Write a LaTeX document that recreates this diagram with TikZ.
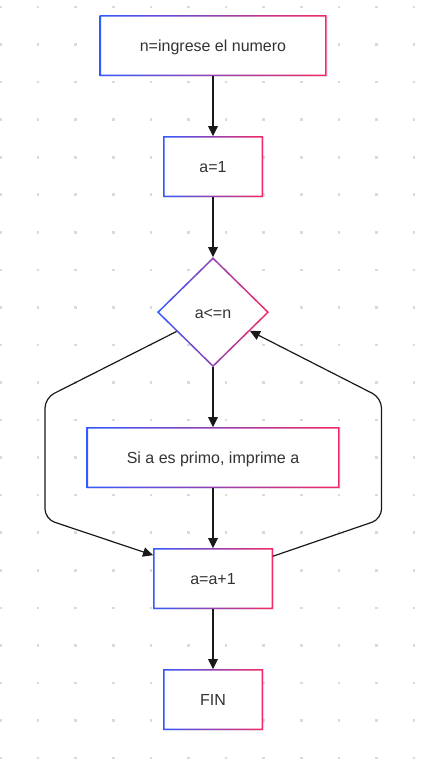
\documentclass[tikz,border=0pt]{standalone}
\usepackage{fontspec}
\setmainfont{Liberation Sans}
\usetikzlibrary{matrix,backgrounds,arrows.meta,shapes.geometric,shadows,calc}
\definecolor{gradblue}{RGB}{50,90,255}
\definecolor{gradred}{RGB}{245,40,100}
\definecolor{txtgray}{RGB}{51,51,51}
\definecolor{dotgray}{RGB}{218,218,218}
\tikzset{
    cell/.style={font=\fontsize{16}{19}\selectfont, text=txtgray, outer sep=0pt,
                 text height=11.6pt, text depth=0pt},
    box/.style={rectangle, minimum height=61pt, fill=white,
                drop shadow={opacity=0.12, shadow xshift=1pt, shadow yshift=-1pt}},
    decision/.style={diamond, minimum width=112pt, minimum height=110pt, fill=white},
    arrow/.style={-{Triangle[length=10pt,width=9.5pt]}, line width=1.2pt, black!90},
    frame/.style={left color=gradblue, right color=gradred, even odd rule}
}

\begin{document}
\begin{tikzpicture}[x=1pt,y=-1pt]
            \useasboundingbox (0,0) rectangle (425,773);

            \matrix (m) [matrix of nodes, row sep=60pt, inner sep=0pt, anchor=north,
                         nodes={cell}
                        ] at (213,15)
            {
             |[box,minimum width=227pt]|    n=ingrese el numero         \\
             |[box,minimum width=100pt]|    a=1                         \\
             |[decision]|                   a<=n                        \\
             |[box,minimum width=253pt]|    Si a es primo, imprime a    \\
             |[box,minimum width=120pt]|    a=a+1                       \\
             |[box,minimum width=100pt]|    FIN                         \\
              };

            % Borders
            \foreach \r in {1,2,4,5,6}
                \shade[frame] (m-\r-1.south west) rectangle (m-\r-1.north east)
                    ([shift={(1.5pt,1.5pt)}]m-\r-1.south west) rectangle ([shift={(-1.5pt,-1.5pt)}]m-\r-1.north east);
            \shade[frame] (m-3-1.north) -- (m-3-1.east) -- (m-3-1.south) -- (m-3-1.west) -- cycle
                ([yshift=-2.1pt]m-3-1.north) -- ([xshift=-2.1pt]m-3-1.east) -- ([yshift=2.1pt]m-3-1.south) -- ([xshift=2.1pt]m-3-1.west) -- cycle;

            \draw[arrow] (m-1-1) -- (m-2-1);
            \draw[arrow] (m-2-1) -- (m-3-1);
            \draw[arrow] (m-3-1) -- (m-4-1);
            \draw[arrow] (m-4-1) -- (m-5-1);
            \draw[arrow] (m-5-1) -- (m-6-1);

            % Loop
            \coordinate (lout) at ($(m-3-1.west)!0.35!(m-3-1.south)$);
            \coordinate (rin) at ($(m-3-1.east)!0.34!(m-3-1.south)$);
            \coordinate (lend) at ([yshift=-7pt]m-5-1.north west);
            \coordinate (rstart) at ([yshift=-8pt]m-5-1.north east);
            \coordinate (ltop) at (45,398);
            \coordinate (lbot) at (45,519);
            \coordinate (rtop) at (381.5,398);
            \coordinate (rbot) at (381.5,519);
            \draw[arrow, rounded corners=10pt] (lout) -- (ltop) -- (lbot) -- (lend);
            \draw[arrow, rounded corners=10pt] (rstart) -- (rbot) -- (rtop) -- (rin);

            % Background
            \begin{scope}[on background layer]
                \foreach \i in {0,...,11}
                    \foreach \j in {0,...,20}
                        \fill[dotgray] (0.5+37.6*\i-1.3, 7+37.55*\j-1.3) rectangle ++(2.6,2.6);
            \end{scope}
        \end{tikzpicture}
\end{document}
